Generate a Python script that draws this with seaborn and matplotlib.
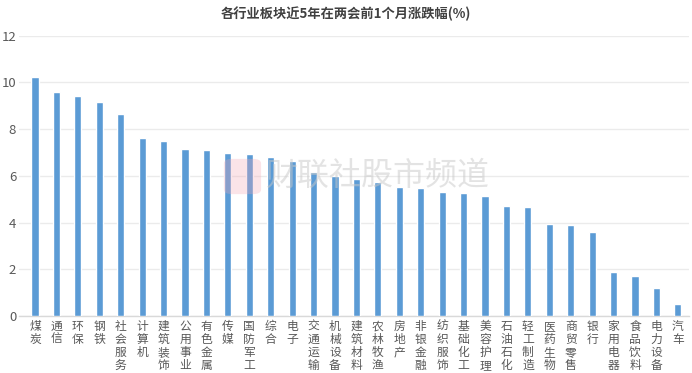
import matplotlib
matplotlib.use("Agg")
import matplotlib.pyplot as plt
import seaborn as sns
import pandas as pd
from matplotlib.patches import FancyBboxPatch, Circle

categories = ["煤炭", "通信", "环保", "钢铁", "社会服务", "计算机", "建筑装饰", "公用事业",
              "有色金属", "传媒", "国防军工", "综合", "电子", "交通运输", "机械设备", "建筑材料",
              "农林牧渔", "房地产", "非银金融", "纺织服饰", "基础化工", "美容护理", "石油石化",
              "轻工制造", "医药生物", "商贸零售", "银行", "家用电器", "食品饮料", "电力设备", "汽车"]
values = [10.24, 9.57, 9.40, 9.17, 8.64, 7.60, 7.50, 7.15, 7.10, 6.99, 6.93, 6.82, 6.63,
          6.15, 5.98, 5.86, 5.75, 5.52, 5.48, 5.31, 5.28, 5.12, 4.69, 4.66, 3.94, 3.88,
          3.58, 1.90, 1.70, 1.20, 0.50]
yticks = [0, 2, 4, 6, 8, 10, 12]
title = "各行业板块近5年在两会前1个月涨跌幅(%)"
watermark = "财联社股市频道"

sns.set_theme(style="white")
plt.rcParams['font.family'] = ['Noto Sans CJK SC', 'DejaVu Sans']

df = pd.DataFrame({"cat": categories, "val": values})

fig = plt.figure(figsize=(6.92, 3.73), dpi=100)
ax = fig.add_axes([19/692, 57/373, 670/692, (316-35.6)/373])

sns.barplot(data=df, x="cat", y="val", color="#5B9BD5", saturation=1, width=0.33, ax=ax, zorder=3)

ax.set_xlim(-0.747, 30.52)
ax.set_ylim(0, 12)
ax.set_yticks(yticks)
ax.set_yticklabels([str(t) for t in yticks], color="#595959", fontsize=9.5)
ax.yaxis.grid(True, color="#EBEBEB", linewidth=1, zorder=0)
ax.set_axisbelow(True)
for s in ["top", "right", "left"]:
    ax.spines[s].set_visible(False)
ax.spines["bottom"].set_color("#D9D9D9")
ax.spines["bottom"].set_linewidth(1)
ax.tick_params(axis="y", length=0, pad=2)
ax.tick_params(axis="x", length=0, pad=3)
ax.set_xlabel("")
ax.set_ylabel("")
ax.set_xticks(range(len(categories)))
ax.set_xticklabels(["\n".join(c) for c in categories], rotation=0, fontsize=8.5,
                   color="#595959", va="top", linespacing=1.0)

fig.text(0.5, 1 - 14/373, title, ha="center", va="center", fontsize=9.5,
         fontweight="bold", color="#404040")

# watermark
fig.text(266/692, 1 - 176/373, watermark, ha="left", va="center", fontsize=23,
         color="#C8C8C8", alpha=0.5, zorder=10)
logo = FancyBboxPatch((226/692, 1 - 193/373), 33/692, 33/373,
                      boxstyle="round,pad=0.003,rounding_size=0.012",
                      transform=fig.transFigure, facecolor="#F4A6B4", edgecolor="none",
                      alpha=0.3, zorder=10)
fig.patches.append(logo)

fig.savefig("out.png", dpi=100)
